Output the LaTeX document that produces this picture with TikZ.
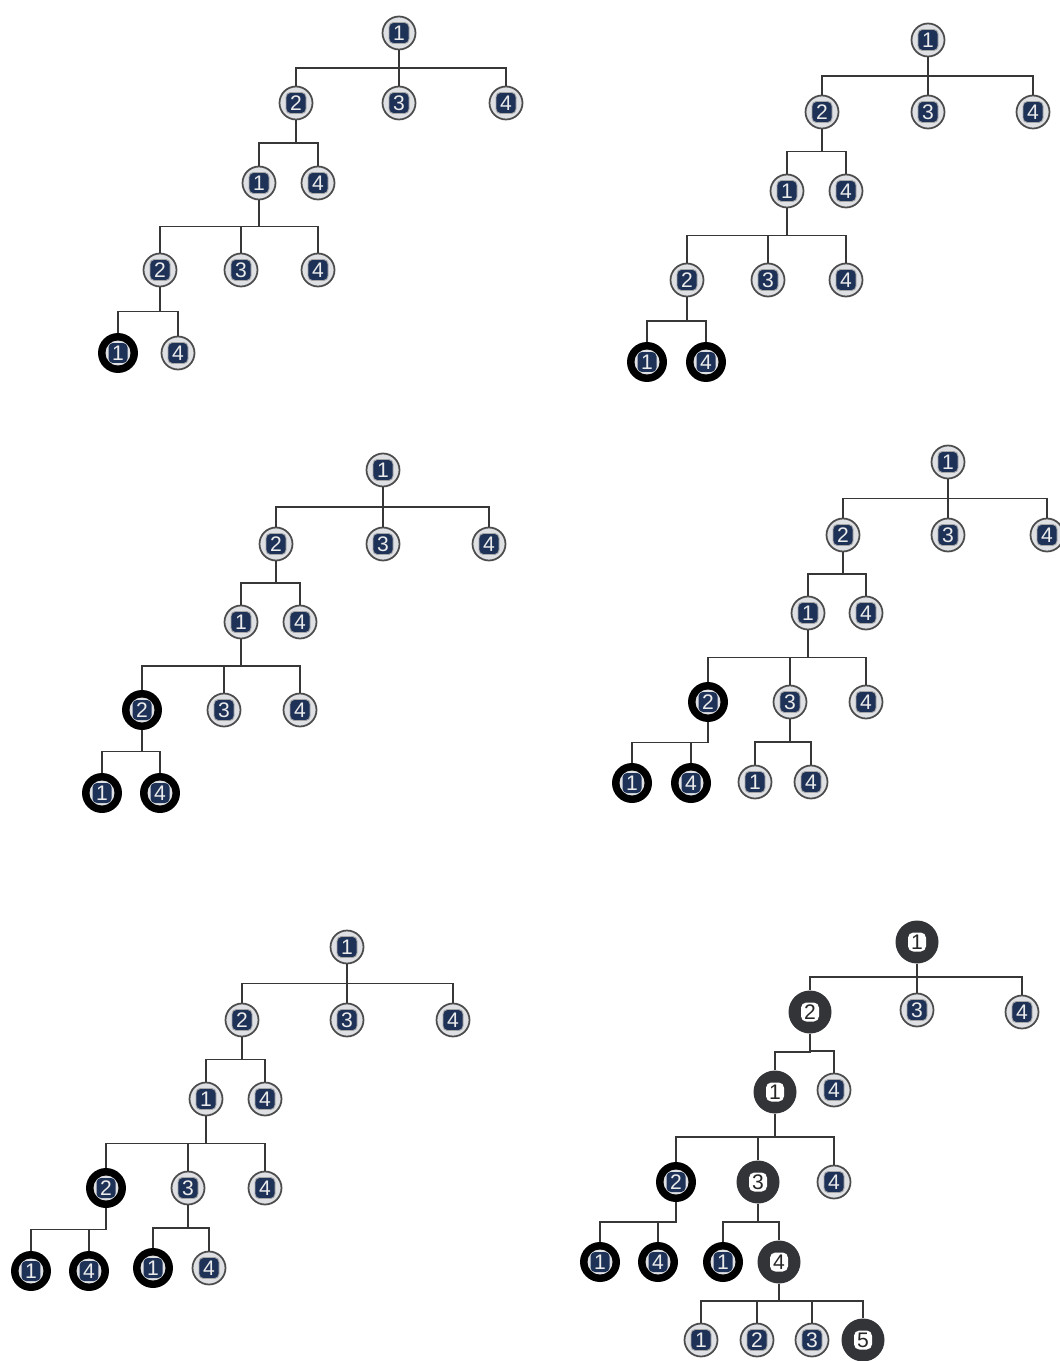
\documentclass[tikz,border=0pt]{standalone}
\usepackage{fontspec}
\setsansfont{Liberation Sans}
\usepackage{tikz}
\usetikzlibrary{calc}
\definecolor{navy}{RGB}{30,50,88}
\definecolor{ringgray}{RGB}{222,224,228}
\definecolor{linegray}{RGB}{55,55,55}
\definecolor{pathgray}{RGB}{50,52,56}
\tikzset{
  cnode/.style={circle, draw=black!70, line width=1pt, fill=ringgray,
    minimum size=0.66cm, inner sep=0pt, text=black!8,
    font=\sffamily\fontsize{12}{12}\selectfont,
    path picture={\filldraw[fill=navy, draw=black!35, line width=0.5pt, rounded corners=2.5pt]
      ($(path picture bounding box.center)+(-0.2cm,-0.21cm)$) rectangle ++(0.4cm,0.42cm);}},
  vnode/.style={circle, fill=black, minimum size=0.8cm, inner sep=0pt,
    text=black!8, font=\sffamily\fontsize{12}{12}\selectfont,
    path picture={\fill[ringgray] (path picture bounding box.center) circle (0.25cm);
      \fill[navy, rounded corners=2.5pt]
      ($(path picture bounding box.center)+(-0.19cm,-0.2cm)$) rectangle ++(0.38cm,0.4cm);}},
  pnode/.style={circle, fill=pathgray, minimum size=0.86cm, inner sep=0pt,
    text=black!85, font=\sffamily\fontsize{12}{12}\selectfont,
    path picture={\fill[white, rounded corners=3pt]
      ($(path picture bounding box.center)+(-0.18cm,-0.19cm)$) rectangle ++(0.36cm,0.38cm);}},
  link/.style={line width=1pt, color=linegray,
    to path={(\tikztostart) |- ($(\tikztostart)!0.5!(\tikztotarget)$) -| (\tikztotarget)}}
}

\begin{document}
\begin{tikzpicture}[x=0.02cm, y=-0.02cm]
  \useasboundingbox (0,0) rectangle (1060,1361);

  % Tree a (top left)
  \node[cnode] (a1) at (399,33) {1};
  \node[cnode] (a12) at (296,103) {2};
  \node[cnode] (a13) at (399,103) {3};
  \node[cnode] (a14) at (506,103) {4};
  \node[cnode] (a121) at (259,183) {1};
  \node[cnode] (a124) at (318,183) {4};
  \node[cnode] (a1212) at (160,270) {2};
  \node[cnode] (a1213) at (241,270) {3};
  \node[cnode] (a1214) at (318,270) {4};
  \node[vnode] (a12121) at (118,353) {1};
  \node[cnode] (a12124) at (178,353) {4};

  % Tree b (top right)
  \node[cnode] (b1) at (928,40) {1};
  \node[cnode] (b12) at (822,112) {2};
  \node[cnode] (b13) at (928,112) {3};
  \node[cnode] (b14) at (1033,112) {4};
  \node[cnode] (b121) at (787,191) {1};
  \node[cnode] (b124) at (846,191) {4};
  \node[cnode] (b1212) at (687,280) {2};
  \node[cnode] (b1213) at (768,280) {3};
  \node[cnode] (b1214) at (846,280) {4};
  \node[vnode] (b12121) at (647,362) {1};
  \node[vnode] (b12124) at (706,362) {4};

  % Tree c (middle left)
  \node[cnode] (c1) at (383,470) {1};
  \node[cnode] (c12) at (276,544) {2};
  \node[cnode] (c13) at (383,544) {3};
  \node[cnode] (c14) at (489,544) {4};
  \node[cnode] (c121) at (241,622) {1};
  \node[cnode] (c124) at (300,622) {4};
  \node[vnode] (c1212) at (142,710) {2};
  \node[cnode] (c1213) at (224,710) {3};
  \node[cnode] (c1214) at (300,710) {4};
  \node[vnode] (c12121) at (102,793) {1};
  \node[vnode] (c12124) at (160,793) {4};

  % Tree d (middle right)
  \node[cnode] (d1) at (948,462) {1};
  \node[cnode] (d12) at (843,535) {2};
  \node[cnode] (d13) at (948,535) {3};
  \node[cnode] (d14) at (1047,535) {4};
  \node[cnode] (d121) at (808,613) {1};
  \node[cnode] (d124) at (866,613) {4};
  \node[vnode] (d1212) at (708,702) {2};
  \node[cnode] (d1213) at (790,702) {3};
  \node[cnode] (d1214) at (866,702) {4};
  \node[vnode] (d12121) at (632,783) {1};
  \node[vnode] (d12124) at (691,783) {4};
  \node[cnode] (d12131) at (755,782) {1};
  \node[cnode] (d12134) at (811,782) {4};

  % Tree e (bottom left)
  \node[cnode] (e1) at (347,947) {1};
  \node[cnode] (e12) at (242,1020) {2};
  \node[cnode] (e13) at (347,1020) {3};
  \node[cnode] (e14) at (453,1020) {4};
  \node[cnode] (e121) at (206,1099) {1};
  \node[cnode] (e124) at (265,1099) {4};
  \node[vnode] (e1212) at (106,1188) {2};
  \node[cnode] (e1213) at (188,1188) {3};
  \node[cnode] (e1214) at (265,1188) {4};
  \node[vnode] (e12121) at (31,1271) {1};
  \node[vnode] (e12124) at (89,1271) {4};
  \node[vnode] (e12131) at (153,1268) {1};
  \node[cnode] (e12134) at (209,1268) {4};

  % Tree f (bottom right)
  \node[pnode] (f1) at (917,942) {1};
  \node[pnode] (f12) at (810,1012) {2};
  \node[cnode] (f13) at (917,1010) {3};
  \node[cnode] (f14) at (1022,1012) {4};
  \node[pnode] (f121) at (775,1092) {1};
  \node[cnode] (f124) at (834,1090) {4};
  \node[vnode] (f1212) at (676,1182) {2};
  \node[pnode] (f1213) at (758,1182) {3};
  \node[cnode] (f1214) at (834,1182) {4};
  \node[vnode] (f12121) at (600,1262) {1};
  \node[vnode] (f12124) at (658,1262) {4};
  \node[vnode] (f12131) at (723,1262) {1};
  \node[pnode] (f12134) at (779,1262) {4};
  \node[cnode] (f121341) at (701,1340) {1};
  \node[cnode] (f121342) at (757,1340) {2};
  \node[cnode] (f121343) at (812,1340) {3};
  \node[pnode] (f121345) at (863,1340) {5};

  % Links
  \foreach \t in {a,b,c,d,e,f} {
    \foreach \p/\c in {1/12, 1/13, 1/14, 12/121, 12/124, 121/1212, 121/1213, 121/1214, 1212/12121, 1212/12124}
      \draw[link] (\t\p) to (\t\c);
  }
  \foreach \t in {d,e,f}
    \foreach \p/\c in {1213/12131, 1213/12134}
      \draw[link] (\t\p) to (\t\c);
  \foreach \c in {121341, 121342, 121343, 121345}
    \draw[link] (f12134) to (f\c);

\end{tikzpicture}
\end{document}
